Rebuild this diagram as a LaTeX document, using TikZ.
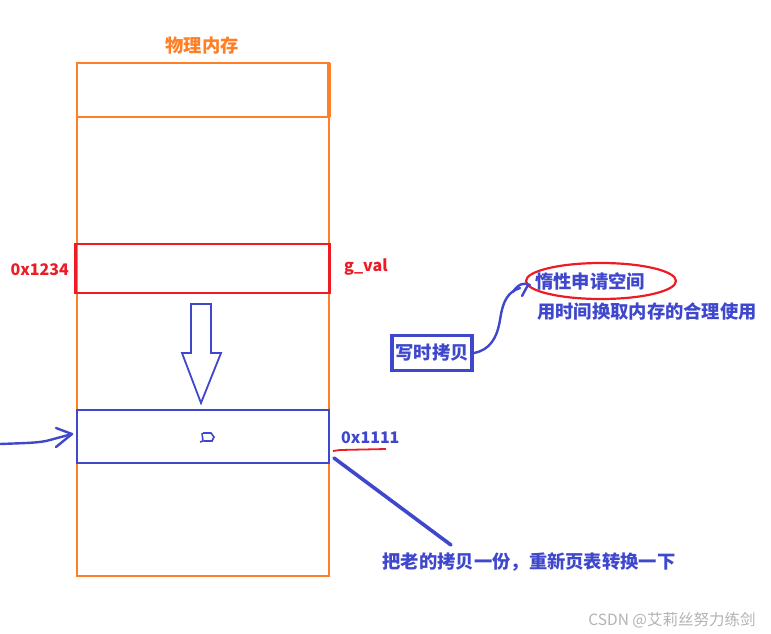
\documentclass[tikz,border=0pt]{standalone}
\usepackage{fontspec}
\setmainfont{Noto Sans CJK SC}
\usetikzlibrary{arrows.meta,shapes.geometric}
\definecolor{org}{HTML}{FF7F27}
\definecolor{rd}{HTML}{ED1C24}
\definecolor{bl}{HTML}{3F48CC}
\begin{document}
\begin{tikzpicture}[x=1pt,y=-1pt,
  lbl/.style={font=\fontsize{16}{18}\selectfont\bfseries, inner sep=0pt},
  cjk/.style={font=\fontsize{18.3}{21}\selectfont\bfseries, inner sep=0pt},
  hand/.style={bl, line width=2.4pt, line cap=round, line join=round}]
\useasboundingbox (0,0) rectangle (771,634);
% memory column
\node[cjk, text=org] (title) at (202,46) {物理内存};
\draw[org, line width=2.4pt] (77,63) rectangle (329,576);
\draw[org, line width=2.4pt] (77,117) -- (329,117);
\draw[org, line width=3.4pt] (329,63) -- (329,117);
\node[draw=rd, line width=2.6pt, minimum width=254pt, minimum height=49pt, inner sep=0pt] (old) at (202.5,268.5) {};
\node[draw=bl, line width=2.4pt, minimum width=252pt, minimum height=53pt, inner sep=0pt] (new) at (203,436.5) {};
% labels
\node[lbl, text=rd, anchor=east] (a1) at (69,270) {0x1234};
\node[lbl, text=rd, anchor=west] (gv) at (344,267) {g\_val};
\node[lbl, text=bl, anchor=west] (a2) at (341,438) {0x1111};
\draw[rd, line width=1.8pt] (333,451) -- (340,450) -- (386,449);
% hollow arrow
\draw[bl, line width=1.8pt, line join=miter] (191,304) -- (211,304) -- (211,353) -- (221,353) -- (201,403) -- (182,353) -- (191,353) -- cycle;
% small glyph inside
\draw[bl, line width=1.6pt] (203,433) -- (211,433) -- (214,437) -- (212,441) -- (204,441) (202,433) -- (203,441) -- (200,442);
% left arrow
\coordinate (lstart) at (0,444);
\draw[hand] (lstart) .. controls (25,443) and (40,443) .. (50,440) -- (72,434);
\draw[hand] (56,428) -- (72,434) -- (56,447);
% connector to bottom text
\node[cjk, text=bl] (copytxt) at (529,562) {把老的拷贝一份，重新页表转换一下};
\coordinate (c1) at (334,458);
\coordinate (c2) at (451,545);
\draw[bl, line width=3.6pt, line cap=round] (c1) -- (c2);
% copy on write box
\node[cjk, text=bl, draw=bl, line width=3.6pt, minimum width=80pt, minimum height=35pt, inner sep=0pt] (cow) at (432,353) {写时拷贝};
\node[draw=rd, line width=2.2pt, ellipse, minimum width=150pt, minimum height=36pt, inner sep=0pt] (ell) at (601,281) {};
\node[cjk, text=bl] (lazy) at (590,281) {惰性申请空间};
\node[cjk, text=bl] (trade) at (647,312) {用时间换取内存的合理使用};
\draw[hand] (cow.east) .. controls (490,350) and (497,338) .. (500,320) .. controls (503,300) and (508,292) .. (520,288);
\draw[hand] (513,292) .. controls (518,284) and (524,282) .. (530,285);
\draw[hand] (522,296) -- (528,285);
% watermark
\node[font=\fontsize{15.5}{17}\selectfont, text=black!30, inner sep=0pt] (wm) at (672,620) {CSDN @艾莉丝努力练剑};
\end{tikzpicture}
\end{document}
